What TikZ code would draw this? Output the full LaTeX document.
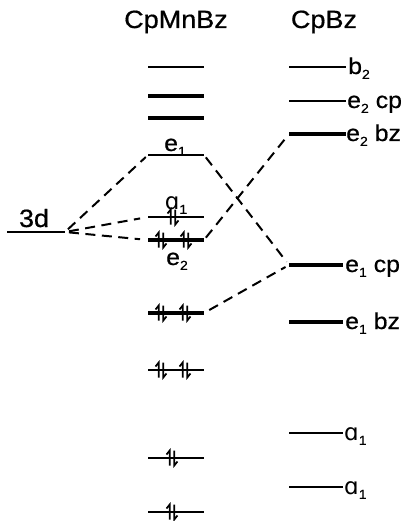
\documentclass[tikz,border=0pt]{standalone}
\usepackage{fontspec}
\setmainfont{Liberation Sans}[FakeStretch=1.08, FakeBold=0.6]
\newfontfamily\symfont{DejaVu Sans}
\newcommand{\lsub}[1]{\raisebox{-0.4ex}{\fontsize{13}{13}\selectfont #1}}
\newcommand{\alf}{{\symfont ɑ}}
% electron pair: up and down half-arrows across a level at (x,y)
\newcommand{\epair}[2]{%
  \draw[spin] (#1-2.3,#2+7.5) -- (#1-2.3,#2-7.5) -- (#1-5.5,#2-3.5);
  \draw[spin] (#1+2.3,#2-7.5) -- (#1+2.3,#2+7.5) -- (#1+5.5,#2+3.5);
}
\tikzset{
  thinlev/.style={line width=1.5pt},
  midlev/.style={line width=2.5pt},
  thicklev/.style={line width=3.4pt},
  corr/.style={line width=2pt, dash pattern=on 10pt off 6.5pt},
  spin/.style={line width=1.7pt},
  title/.style={font=\fontsize{25}{25}\selectfont, anchor=base, inner sep=0},
  lab/.style={font=\fontsize{23}{23}\selectfont, inner sep=0},
}
\begin{document}
\begin{tikzpicture}[x=1pt,y=-1pt]
\useasboundingbox (0,0) rectangle (403,521);

% column headings
\node[title] (hMn) at (176,28) {CpMnBz};
\node[title] (hBz) at (324,28) {CpBz};

% 3d level of the metal
\coordinate (d3l) at (7,232);
\coordinate (d3r) at (65,232);
\draw[thinlev] (d3l) -- (d3r);
\node[lab, anchor=base, font=\fontsize{25}{25}\selectfont] (d3lab) at (34,227) {3d};

% CpMnBz levels
\foreach \n/\y/\s in {m1/67/thinlev, m2/96/thicklev, m3/118/thicklev,
    me1/155/midlev, ma1/217/thinlev, me2/240/thicklev,
    m7/313/thicklev, m8/370/midlev, m9/458/thinlev, m10/512/thinlev}{
  \coordinate (\n l) at (148,\y);
  \coordinate (\n r) at (204,\y);
  \draw[\s] (\n l) -- (\n r);
}
\node[lab, anchor=base] (le1) at (175,151) {e\lsub{1}};
\node[lab, anchor=base] (la1) at (176,209) {\alf\lsub{1}};
\node[lab, anchor=base] (le2) at (177,265) {e\lsub{2}};

% electrons
\epair{173}{217}
\epair{161}{240}
\epair{186}{240}
\epair{161}{313}
\epair{185}{313}
\epair{161}{370}
\epair{185}{370}
\epair{172}{458}
\epair{172}{512}

% CpBz levels
\foreach \n/\y/\xr/\s in {rb2/67/346/thinlev, re2c/101/346/midlev, re2b/134/346/thicklev,
    re1c/265/343/thicklev, re1b/322/343/thicklev, ra1/433/343/thinlev, rb1/487/343/thinlev}{
  \coordinate (\n l) at (289,\y);
  \coordinate (\n r) at (\xr,\y);
  \draw[\s] (\n l) -- (\n r);
}
\node[lab, anchor=base west] (lb2) at (348,74) {b\lsub{2}};
\node[lab, anchor=base west] (le2c) at (347,108) {e\lsub{2} cp};
\node[lab, anchor=base west] (le2b) at (346,141) {e\lsub{2} bz};
\node[lab, anchor=base west] (le1c) at (345,272) {e\lsub{1} cp};
\node[lab, anchor=base west] (le1b) at (345,329) {e\lsub{1} bz};
\node[lab, anchor=base west] (la1a) at (344,440) {\alf\lsub{1}};
\node[lab, anchor=base west] (la1b) at (344,494) {\alf\lsub{1}};

% correlation lines
\draw[corr, shorten <=4pt, shorten >=3pt] (d3r) -- (me1l);
\draw[corr, shorten <=4pt, shorten >=8pt] (d3r) -- (ma1l);
\draw[corr, shorten <=4pt, shorten >=8pt] (d3r) -- (me2l);
\draw[corr, shorten <=3pt, shorten >=4pt] (me1r) -- (re1cl);
\draw[corr, shorten <=3pt, shorten >=4pt] (me2r) -- (re2bl);
\draw[corr, shorten <=6pt, shorten >=4pt] (m7r) -- (re1cl);
\end{tikzpicture}
\end{document}
